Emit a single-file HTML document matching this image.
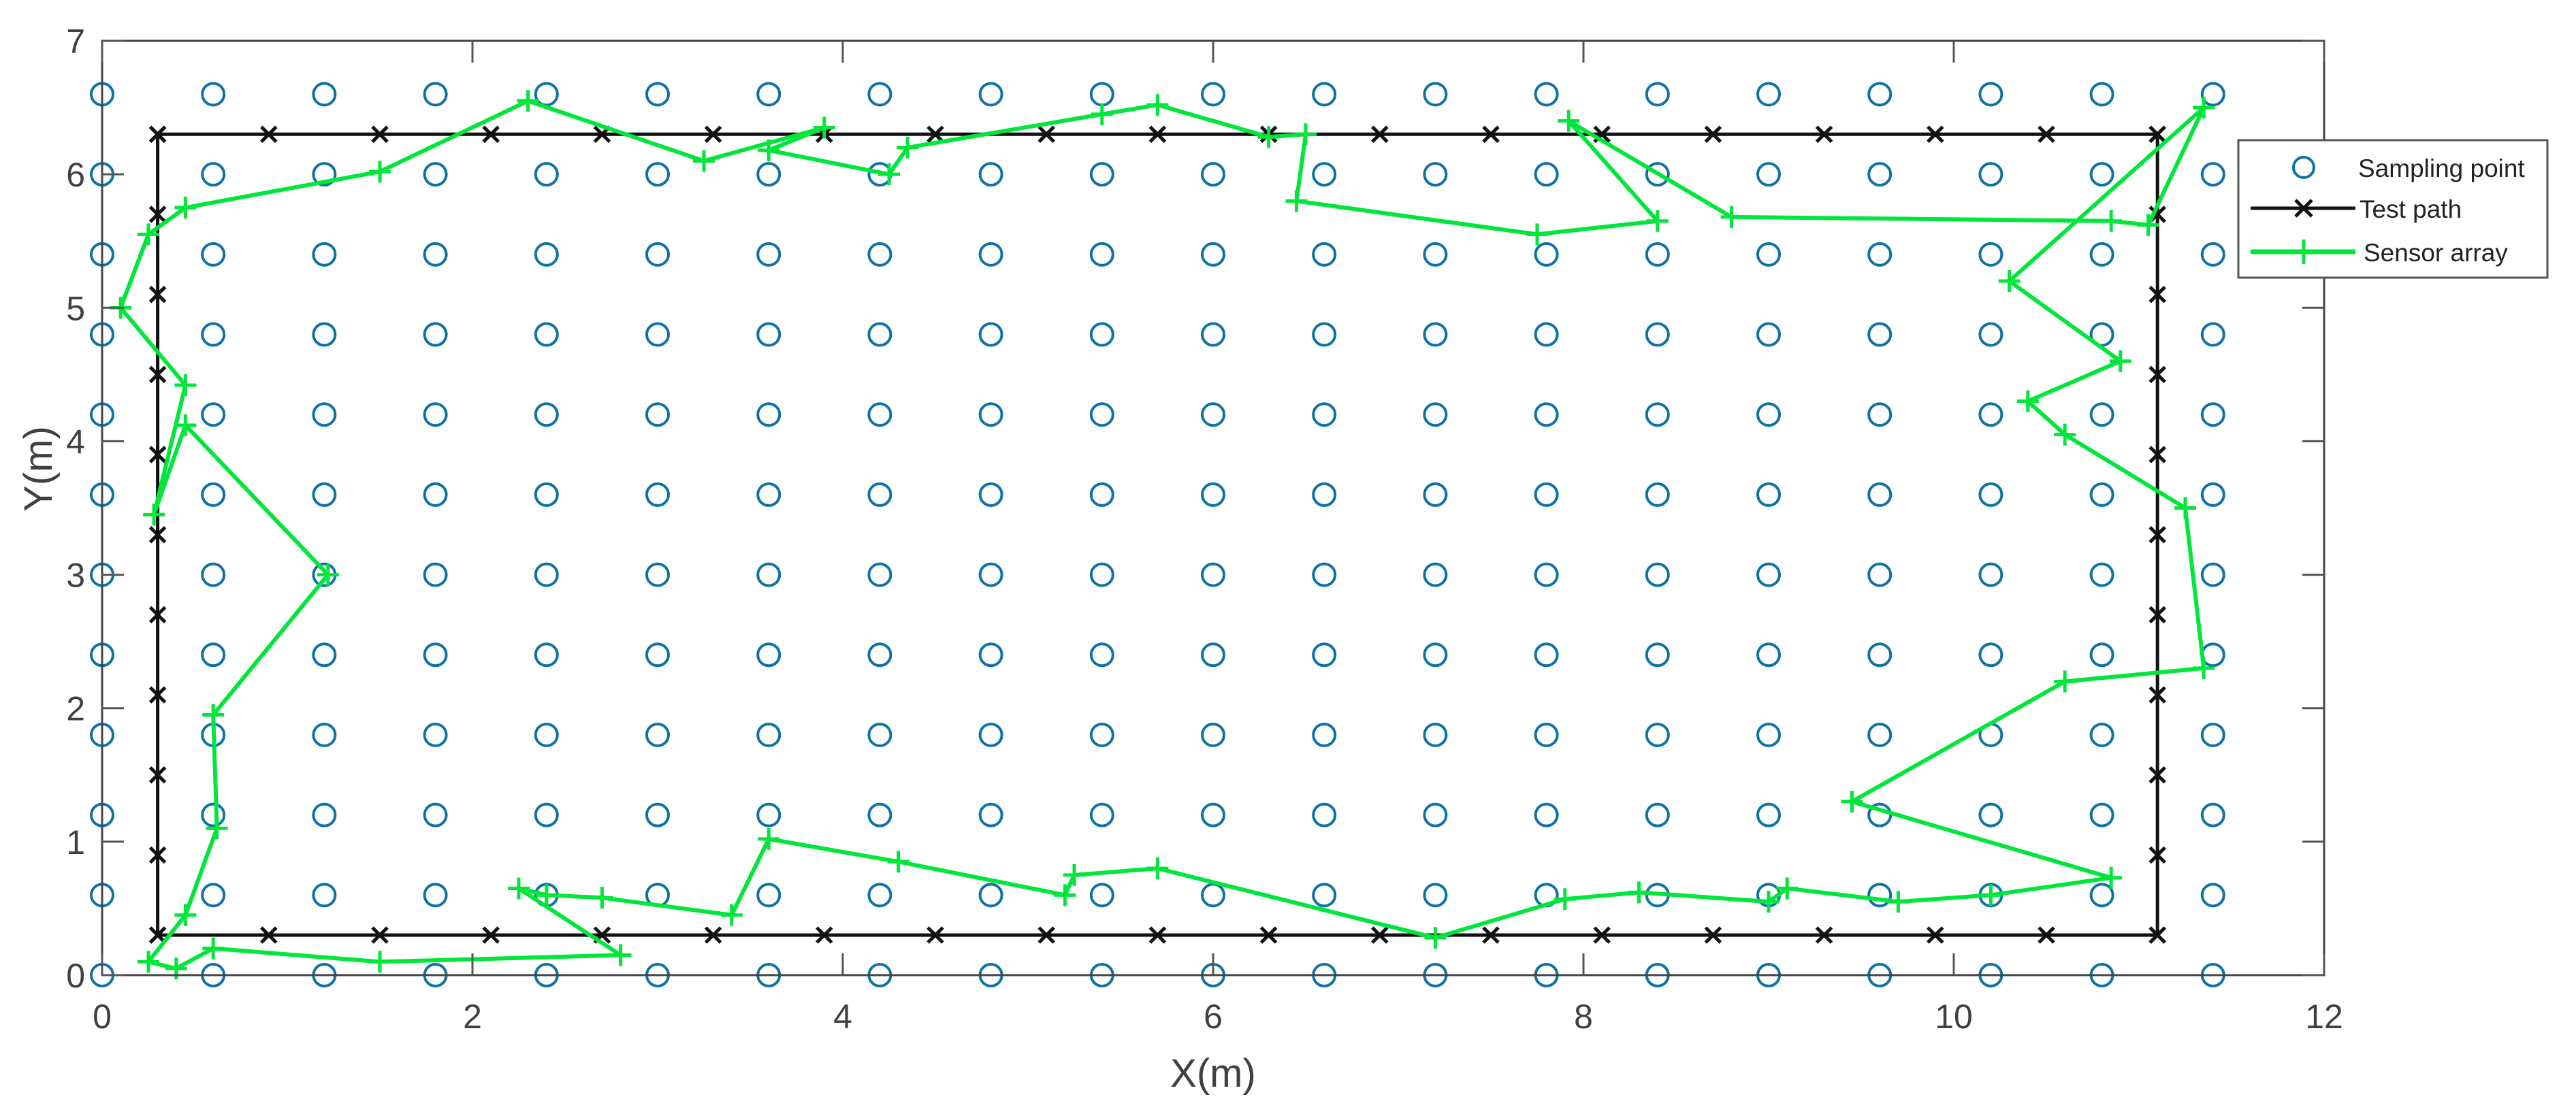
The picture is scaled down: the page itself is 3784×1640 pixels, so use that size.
<!DOCTYPE html>
<html><head><meta charset="utf-8"><style>
html,body{margin:0;padding:0;background:#fff;}
svg{display:block;font-family:"Liberation Sans",Arial,sans-serif;}
</style></head><body>
<svg id="chart" width="3784" height="1640" viewBox="0 0 3784 1640" xmlns="http://www.w3.org/2000/svg">
<rect width="3784" height="1640" fill="#fff"/>
<g id="grid-layer"></g>
<g id="path-layer"></g>
<g id="sensor-layer"></g>
<g id="axes-layer"></g>
<text x="1782" y="1597" font-size="58" fill="#404040" text-anchor="middle">X(m)</text>
<text transform="translate(76,689) rotate(-90)" font-size="58" fill="#404040" text-anchor="middle">Y(m)</text>
<g>
<rect x="3288" y="206" width="454" height="202" fill="#fff" stroke="#555" stroke-width="3"/>
<circle cx="3384" cy="246" r="15" fill="none" stroke="#0e72a6" stroke-width="4"/>
<text x="3464" y="260" font-size="37" fill="#222">Sampling point</text>
<line x1="3306" y1="306" x2="3460" y2="306" stroke="#111" stroke-width="5"/>
<path d="M3372 294 L3396 318 M3396 294 L3372 318" stroke="#111" stroke-width="5"/>
<text x="3466" y="320" font-size="37" fill="#222">Test path</text>
<line x1="3306" y1="370" x2="3460" y2="370" stroke="#00e63a" stroke-width="7"/>
<path d="M3384 352 L3384 388" stroke="#00e63a" stroke-width="5"/>
<text x="3472" y="384" font-size="37" fill="#222">Sensor array</text>
</g>
</svg>
<script>
const xTicks = [0, 2, 4, 6, 8, 10, 12];
const yTicks = [0, 1, 2, 3, 4, 5, 6, 7];
const gridXs = [0,0.6,1.2,1.8,2.4,3.0,3.6,4.2,4.8,5.4,6.0,6.6,7.2,7.8,8.4,9.0,9.6,10.2,10.8,11.4];
const gridYs = [0,0.6,1.2,1.8,2.4,3.0,3.6,4.2,4.8,5.4,6.0,6.6];
const pathXs = [0.3,0.9,1.5,2.1,2.7,3.3,3.9,4.5,5.1,5.7,6.3,6.9,7.5,8.1,8.7,9.3,9.9,10.5,11.1];
const pathYs = [0.3,0.9,1.5,2.1,2.7,3.3,3.9,4.5,5.1,5.7,6.3];
const sensorX = [2.8,1.5,0.6,0.4,0.25,0.45,0.62,0.6,1.22,0.45,0.28,0.45,0.1,0.25,0.45,1.5,2.3,3.25,3.9,3.6,4.25,4.35,5.4,5.7,6.3,6.5,6.45,7.75,8.4,7.92,8.8,10.85,11.05,11.35,10.3,10.9,10.4,10.6,11.25,11.35,10.6,9.45,10.85,10.2,9.7,9.1,9.0,8.3,7.9,7.2,5.7,5.25,5.2,4.3,3.6,3.4,2.7,2.4,2.25,2.8];
const sensorY = [0.15,0.1,0.2,0.05,0.1,0.45,1.1,1.95,3.0,4.12,3.45,4.42,5.0,5.55,5.75,6.02,6.55,6.1,6.35,6.18,6.0,6.2,6.45,6.52,6.28,6.3,5.8,5.55,5.65,6.4,5.68,5.65,5.62,6.5,5.2,4.6,4.3,4.05,3.5,2.3,2.2,1.3,0.73,0.6,0.55,0.65,0.55,0.62,0.57,0.28,0.8,0.75,0.6,0.85,1.02,0.45,0.58,0.6,0.65,0.15];

const X0 = 150, X1 = 3414, Y0 = 1433, Y1 = 60;
function sx(v){ return X0 + (v - 0) / 12 * (X1 - X0); }
function sy(v){ return Y0 - (v - 0) / 7 * (Y0 - Y1); }
const NS = "http://www.w3.org/2000/svg";
function mk(tag, attrs, parent){
  const e = document.createElementNS(NS, tag);
  for (const k in attrs) e.setAttribute(k, attrs[k]);
  parent.appendChild(e);
  return e;
}
const grid = document.getElementById('grid-layer');
const pth = document.getElementById('path-layer');
const sen = document.getElementById('sensor-layer');
const axes = document.getElementById('axes-layer');

gridXs.forEach(gx => gridYs.forEach(gy => {
  const c = mk('circle', {cx: sx(gx), cy: sy(gy), r: 16, fill: 'none', stroke: '#0e72a6', 'stroke-width': 4}, grid);
  
  
}));

const px0 = pathXs[0], px1 = pathXs[pathXs.length-1], py0 = pathYs[0], py1 = pathYs[pathYs.length-1];
const rect = mk('polyline', {points: `${sx(px0)},${sy(py0)} ${sx(px1)},${sy(py0)} ${sx(px1)},${sy(py1)} ${sx(px0)},${sy(py1)} ${sx(px0)},${sy(py0)}`, fill: 'none', stroke: '#111', 'stroke-width': 5}, pth);


function xMark(x, y){
  const m = mk('path', {d: `M${x-11} ${y-11} L${x+11} ${y+11} M${x+11} ${y-11} L${x-11} ${y+11}`, stroke: '#111', 'stroke-width': 5}, pth);
  
  
}
pathXs.forEach(v => { xMark(sx(v), sy(py0)); xMark(sx(v), sy(py1)); });
pathYs.forEach(v => { xMark(sx(px0), sy(v)); xMark(sx(px1), sy(v)); });

const pts = sensorX.map((v, i) => `${sx(v)},${sy(sensorY[i])}`).join(' ');
const sl = mk('polyline', {points: pts, fill: 'none', stroke: '#00e63a', 'stroke-width': 6, 'stroke-linejoin': 'round'}, sen);


sensorX.forEach((v, i) => {
  const x = sx(v), y = sy(sensorY[i]);
  const m = mk('path', {d: `M${x-16} ${y} L${x+16} ${y} M${x} ${y-16} L${x} ${y+16}`, stroke: '#00e63a', 'stroke-width': 5}, sen);
  
  
});

const box = mk('rect', {x: X0, y: Y1, width: X1 - X0, height: Y0 - Y1, fill: 'none', stroke: '#444', 'stroke-width': 3}, axes);


xTicks.forEach(t => {
  const x = sx(t);
  const tk = mk('path', {d: `M${x} ${Y0} L${x} ${Y0-32} M${x} ${Y1} L${x} ${Y1+32}`, stroke: '#555', 'stroke-width': 3}, axes);
  
  
  const tl = mk('text', {x: x, y: Y0 + 78, 'font-size': 50, fill: '#404040', 'text-anchor': 'middle'}, axes);
  tl.textContent = t;
  
  
});
yTicks.forEach(t => {
  const y = sy(t);
  const tk = mk('path', {d: `M${X0} ${y} L${X0+32} ${y} M${X1} ${y} L${X1-32} ${y}`, stroke: '#555', 'stroke-width': 3}, axes);
  
  
  const tl = mk('text', {x: X0 - 25, y: y + 18, 'font-size': 50, fill: '#404040', 'text-anchor': 'end'}, axes);
  tl.textContent = t;
  
  
});
</script>
</body></html>
